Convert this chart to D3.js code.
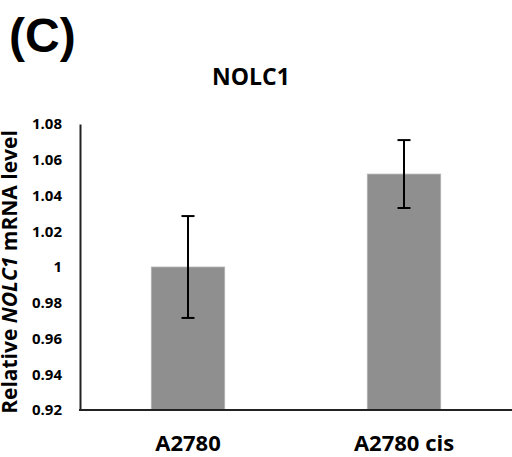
<!DOCTYPE html>
<html>
<head>
<meta charset="utf-8">
<script src="https://cdn.jsdelivr.net/npm/d3@7"></script>
<style>
body { margin: 0; background: #fff; }
text { font-family: "Open Sans", sans-serif; font-weight: bold; fill: #000; }
</style>
</head>
<body>
<svg width="512" height="457"></svg>
<script>
// data
var categories = ["A2780", "A2780 cis"];
var values = [1.0, 1.052];
var errors = [0.0285, 0.019];
var yTicks = [0.92, 0.94, 0.96, 0.98, 1, 1.02, 1.04, 1.06, 1.08];

var svg = d3.select("svg"),
	mLeft = 80,
	mRight = 512,
	mTop = 124,
	mBottom = 410;

var x = d3.scaleBand().domain(categories).range([mLeft, mRight]).paddingInner(0.66).paddingOuter(0.33);
var y = d3.scaleLinear().domain([0.92, 1.08]).range([mBottom, mTop]);

// panel label and title
svg.append("text").attr("x", 9).attr("y", 52)
	.style("font-family", "'Liberation Sans', Arial, sans-serif")
	.style("font-size", "48px").text("(C)");

svg.append("text").attr("x", 251).attr("y", 85).attr("text-anchor", "middle")
	.style("font-size", "23px").text("NOLC1");

// bars
svg.selectAll(".bar").data(values).enter().append("rect")
	.attr("class", "bar")
	.attr("x", function (d, i) { return x(categories[i]); })
	.attr("width", x.bandwidth())
	.attr("y", function (d) { return y(d); })
	.attr("height", function (d) { return mBottom - y(d); })
	.attr("fill", "#8f8f8f")
	.attr("stroke", "#b5b5b5").attr("stroke-width", 0.8);

// error bars
var err = svg.selectAll(".err").data(values).enter().append("g").attr("class", "err")
	.attr("transform", function (d, i) { return "translate(" + (x(categories[i]) + x.bandwidth() / 2) + ",0)"; });
err.append("line")
	.attr("y1", function (d, i) { return y(d + errors[i]); })
	.attr("y2", function (d, i) { return y(d - errors[i]); });
err.append("line").attr("x1", -6.5).attr("x2", 6.5)
	.attr("y1", function (d, i) { return y(d + errors[i]); })
	.attr("y2", function (d, i) { return y(d + errors[i]); });
err.append("line").attr("x1", -6.5).attr("x2", 6.5)
	.attr("y1", function (d, i) { return y(d - errors[i]); })
	.attr("y2", function (d, i) { return y(d - errors[i]); });
err.selectAll("line").attr("stroke", "#000").attr("stroke-width", 2);

// axes
var yAxis = svg.append("g").attr("transform", "translate(" + mLeft + ",0)")
	.call(d3.axisLeft(y).tickValues(yTicks).tickSize(0).tickPadding(18)
		.tickFormat(function (d) { return d === 1 ? "1" : d3.format(".2f")(d); }));
yAxis.select(".domain").attr("stroke", "#222").attr("stroke-width", 2);
yAxis.selectAll("text").style("font-size", "15px").style("font-family", "'Open Sans', sans-serif")
	.style("font-weight", "bold").attr("fill", "#000");

var xAxis = svg.append("g").attr("transform", "translate(0," + mBottom + ")")
	.call(d3.axisBottom(x).tickSize(0).tickPadding(25));
xAxis.select(".domain").attr("stroke", "#222").attr("stroke-width", 2)
	.attr("d", "M" + (mLeft - 1) + ",0H" + mRight);
xAxis.selectAll("text").style("font-size", "22px").style("font-family", "'Open Sans', sans-serif")
	.style("font-weight", "bold").attr("fill", "#000");

// y axis title
var yt = svg.append("text").attr("transform", "translate(17," + ((mTop + mBottom) / 2 + 5) + ") rotate(-90)")
	.attr("text-anchor", "middle").style("font-size", "21px");
yt.append("tspan").text("Relative ");
yt.append("tspan").style("font-style", "italic").text("NOLC1");
yt.append("tspan").text(" mRNA level");
</script>
</body>
</html>
